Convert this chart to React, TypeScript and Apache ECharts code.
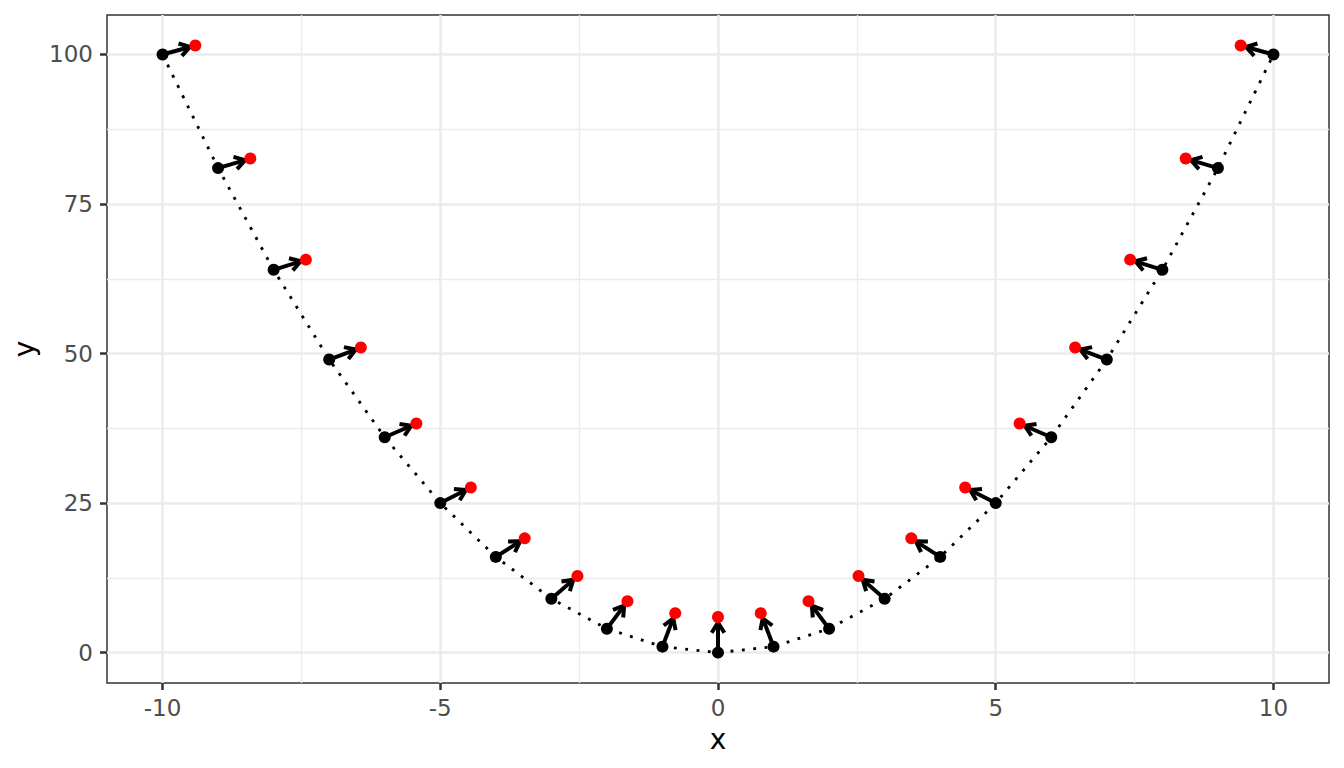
import React, { useEffect, useRef } from "react";
import * as echarts from "echarts";

// black points (x, y = x^2)
const blackX = [-10, -9, -8, -7, -6, -5, -4, -3, -2, -1, 0, 1, 2, 3, 4, 5, 6, 7, 8, 9, 10];
const blackY = [100, 81, 64, 49, 36, 25, 16, 9, 4, 1, 0, 1, 4, 9, 16, 25, 36, 49, 64, 81, 100];
// red points (shifted)
const redX = [-9.41, -8.42, -7.42, -6.43, -5.43, -4.45, -3.48, -2.53, -1.63, -0.77, 0, 0.77, 1.63, 2.53, 3.48, 4.45, 5.43, 6.43, 7.42, 8.42, 9.41];
const redY = [101.5, 82.6, 65.7, 51.0, 38.3, 27.6, 19.1, 12.8, 8.6, 6.6, 5.95, 6.6, 8.6, 12.8, 19.1, 27.6, 38.3, 51.0, 65.7, 82.6, 101.5];

const xTicks = [-10, -5, 0, 5, 10];
const xMinor = [-7.5, -2.5, 2.5, 7.5];
const yTicks = [0, 25, 50, 75, 100];
const yMinor = [12.5, 37.5, 62.5, 87.5];

const FONT = "DejaVu Sans";

export default function App() {
  const ref = useRef<HTMLDivElement>(null);
  useEffect(() => {
    if (!ref.current) return;
    const chart = echarts.init(ref.current, undefined, { renderer: "svg" });

    const blackData = blackX.map((x, i) => [x, blackY[i]]);
    const redData = redX.map((x, i) => [x, redY[i]]);
    const arrowData = blackX.map((x, i) => [x, blackY[i], redX[i], redY[i]]);

    const gridLines = [
      ...xMinor.map((v) => ({ xAxis: v, lineStyle: { color: "#EBEBEB", width: 1.3, type: "solid" } })),
      ...yMinor.map((v) => ({ yAxis: v, lineStyle: { color: "#EBEBEB", width: 1.3, type: "solid" } })),
      ...xTicks.map((v) => ({ xAxis: v, lineStyle: { color: "#EBEBEB", width: 2.5, type: "solid" } })),
      ...yTicks.map((v) => ({ yAxis: v, lineStyle: { color: "#EBEBEB", width: 2.5, type: "solid" } })),
    ];

    const SHORT = 5.5;
    const HEAD = 12;
    const ANG = (32 * Math.PI) / 180;
    const LW = 4;

    const axisCommon = {
      type: "value",
      axisLine: { show: false, onZero: false },
      splitLine: { show: false },
      nameLocation: "middle",
      nameTextStyle: { color: "#000000", fontSize: 28, fontFamily: FONT },
    };

    chart.setOption({
      animation: false,
      backgroundColor: "#FFFFFF",
      grid: {
        left: 107,
        right: 15,
        top: 15,
        bottom: 85,
        show: true,
        borderColor: "#333333",
        borderWidth: 1.5,
        backgroundColor: "transparent",
        containLabel: false,
        outerBoundsMode: "none",
      },
      xAxis: {
        ...axisCommon,
        min: -11,
        max: 11,
        name: "x",
        nameGap: 42,
        axisTick: { show: true, customValues: xTicks, length: 7, lineStyle: { color: "#333333", width: 2.5 } },
        axisLabel: { customValues: xTicks, color: "#4D4D4D", fontSize: 23, fontFamily: FONT, margin: 13 },
      },
      yAxis: {
        ...axisCommon,
        min: -5.08,
        max: 106.6,
        name: "y",
        nameGap: 62,
        axisTick: { show: true, customValues: yTicks, length: 7, lineStyle: { color: "#333333", width: 2.5 } },
        axisLabel: { customValues: yTicks, color: "#4D4D4D", fontSize: 23, fontFamily: FONT, margin: 14 },
      },
      series: [
        {
          type: "line",
          data: [],
          z: 0,
          silent: true,
          markLine: {
            z: 0,
            silent: true,
            symbol: ["none", "none"],
            label: { show: false },
            animation: false,
            data: gridLines,
          },
        },
        {
          type: "line",
          data: blackData,
          z: 2,
          symbol: "none",
          silent: true,
          lineStyle: { color: "#000000", width: 2.85, type: [2.85, 8.55], cap: "butt" },
        },
        {
          type: "custom",
          z: 3,
          data: arrowData,
          encode: { x: [0, 2], y: [1, 3] },
          silent: true,
          renderItem: (params: any, api: any) => {
            const p0 = api.coord([api.value(0), api.value(1)]);
            const p1 = api.coord([api.value(2), api.value(3)]);
            const dx = p1[0] - p0[0];
            const dy = p1[1] - p0[1];
            const len = Math.sqrt(dx * dx + dy * dy) || 1;
            const ux = dx / len;
            const uy = dy / len;
            const tx = p1[0] - ux * SHORT;
            const ty = p1[1] - uy * SHORT;
            const bx = -ux;
            const by = -uy;
            const c = Math.cos(ANG);
            const s = Math.sin(ANG);
            const w1 = [tx + HEAD * (bx * c - by * s), ty + HEAD * (bx * s + by * c)];
            const w2 = [tx + HEAD * (bx * c + by * s), ty + HEAD * (-bx * s + by * c)];
            return {
              type: "group",
              children: [
                {
                  type: "line",
                  shape: { x1: p0[0], y1: p0[1], x2: tx, y2: ty },
                  style: { stroke: "#000000", lineWidth: LW, lineCap: "butt" },
                },
                {
                  type: "polyline",
                  shape: { points: [w1, [tx, ty], w2] },
                  style: { stroke: "#000000", fill: null, lineWidth: LW, lineJoin: "round", lineCap: "butt" },
                },
              ],
            };
          },
        },
        {
          type: "scatter",
          data: blackData,
          z: 4,
          symbol: "circle",
          symbolSize: 12,
          itemStyle: { color: "#000000", opacity: 1 },
          silent: true,
        },
        {
          type: "scatter",
          data: redData,
          z: 5,
          symbol: "circle",
          symbolSize: 12,
          itemStyle: { color: "#FF0000", opacity: 1 },
          silent: true,
        },
      ],
    });
    return () => chart.dispose();
  }, []);

  return (
    <div
      ref={ref}
      style={{ position: "absolute", left: 0, top: 0, width: 1344, height: 768 }}
    />
  );
}
